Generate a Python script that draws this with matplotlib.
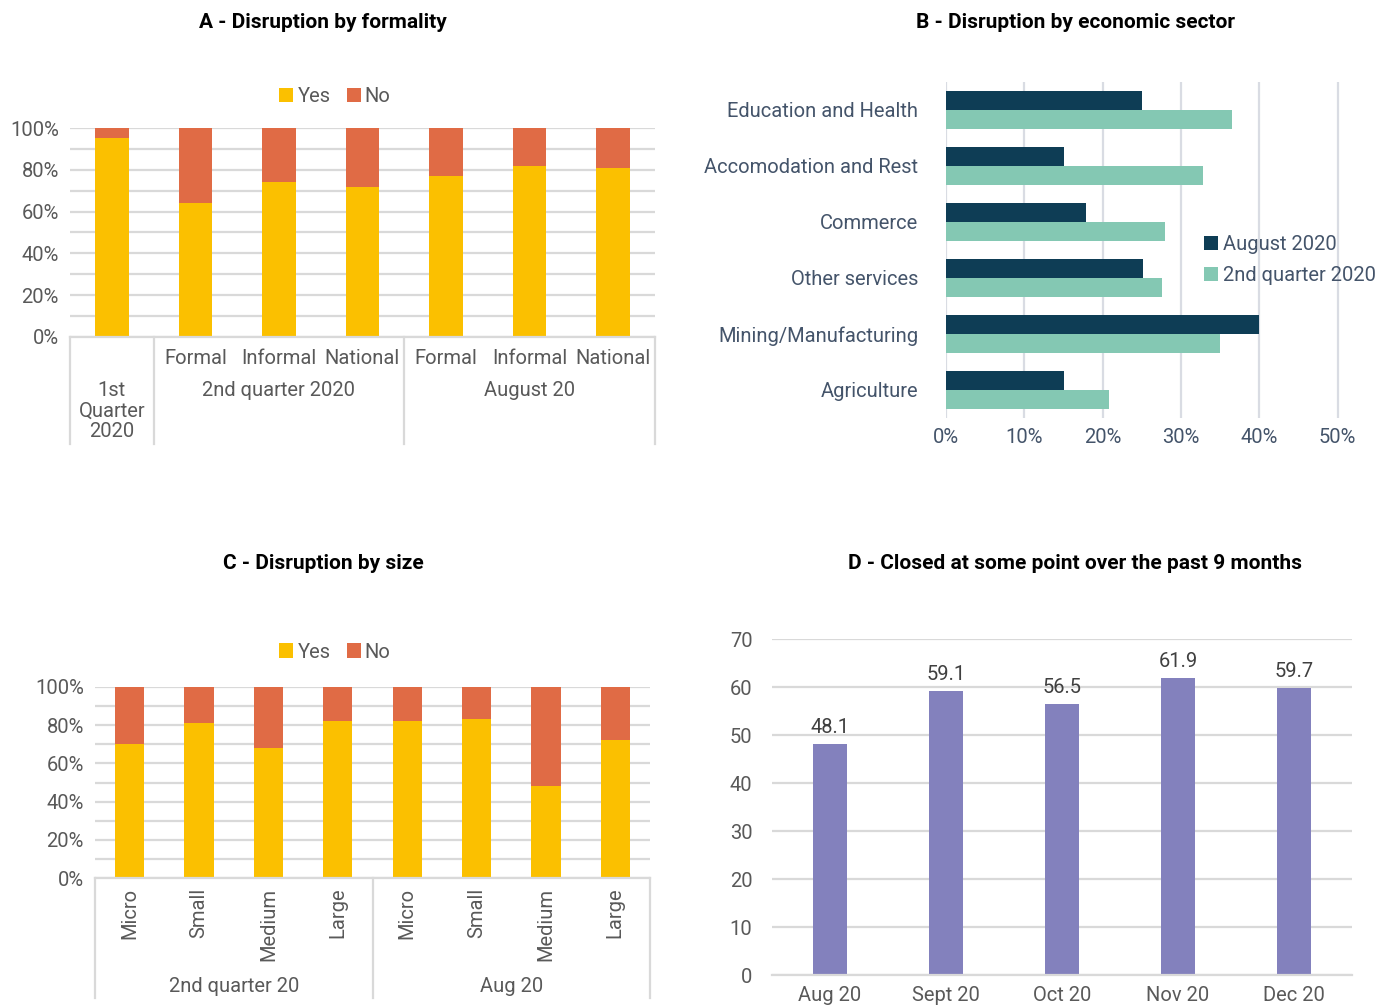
import matplotlib.pyplot as plt
import matplotlib.transforms as mtransforms
import numpy as np

plt.rcParams['font.family'] = ['Roboto', 'DejaVu Sans']

# A - formality
formality_cats = ['', 'Formal', 'Informal', 'National', 'Formal', 'Informal', 'National']
formality_yes = [95, 64, 74, 72, 77, 82, 81]
formality_groups = ['1st\nQuarter\n2020', '2nd quarter 2020', 'August 20']
formality_sizes = [1, 3, 3]

# B - economic sector
sectors = ['Education and Health', 'Accomodation and Rest', 'Commerce',
           'Other services', 'Mining/Manufacturing', 'Agriculture']
sector_aug = [25.0, 15.1, 17.9, 25.2, 40.0, 15.1]
sector_q2 = [36.5, 32.8, 27.9, 27.6, 35.0, 20.8]

# C - size
size_cats = ['Micro', 'Small', 'Medium', 'Large'] * 2
size_yes = [70, 81, 68, 82, 82, 83, 48, 72]
size_groups = ['2nd quarter 20', 'Aug 20']
size_sizes = [4, 4]

# D - closed at some point
months = ['Aug 20', 'Sept 20', 'Oct 20', 'Nov 20', 'Dec 20']
closed = [48.1, 59.1, 56.5, 61.9, 59.7]

YES = '#FBC000'
NO = '#E06B45'
GRID = '#D9D9D9'
TXT = '#595959'
SLATE = '#44546A'
FS = 14.5

W, H = 1376, 1005
fig = plt.figure(figsize=(W / 100, H / 100), dpi=100)


def box(x0, y0, x1, y1):
    # pixel box (top-left origin) -> figure fraction axes
    return fig.add_axes([x0 / W, 1 - y1 / H, (x1 - x0) / W, (y1 - y0) / H])


def stacked(ax, cats, yes, groups, sizes, width, rot, tick_pad, sep_depth, group_y):
    x = np.arange(len(cats))
    no = [100 - v for v in yes]
    ax.bar(x, yes, width, color=YES, label='Yes', zorder=2)
    ax.bar(x, no, width, bottom=yes, color=NO, label='No', zorder=2)
    ax.set_xlim(-0.5, len(cats) - 0.5)
    ax.set_ylim(0, 100)
    ax.set_yticks(range(0, 101, 20))
    ax.set_yticklabels([f'{v}%' for v in range(0, 101, 20)])
    ax.set_yticks(range(10, 100, 20), minor=True)
    ax.grid(axis='y', which='both', color=GRID, lw=1.6, zorder=0)
    ax.set_axisbelow(True)
    for s in ['top', 'right', 'left']:
        ax.spines[s].set_visible(False)
    ax.spines['bottom'].set_color(GRID)
    ax.spines['bottom'].set_linewidth(1.6)
    ax.set_xticks(x)
    if rot:
        ax.set_xticklabels(cats, rotation=90, va='top', ha='center')
    else:
        ax.set_xticklabels(cats)
    ax.tick_params(which='both', length=0, labelsize=FS, colors=TXT)
    ax.tick_params(axis='x', pad=tick_pad)
    ax.tick_params(axis='y', pad=8)
    edges = np.concatenate([[0], np.cumsum(sizes)]) - 0.5
    trans = mtransforms.blended_transform_factory(ax.transData, ax.transAxes)
    for e in edges:
        ax.plot([e, e], [0, -sep_depth], transform=trans, clip_on=False,
                color=GRID, lw=1.6)
    for g, a, b in zip(groups, edges[:-1], edges[1:]):
        ax.text((a + b) / 2, -group_y, g, transform=trans, ha='center', va='top',
                fontsize=FS, color=TXT, linespacing=1.12)


def yes_no_legend(ax, cx, cy):
    h, l = ax.get_legend_handles_labels()
    fig.legend(h, l, loc='center', bbox_to_anchor=(cx / W, 1 - cy / H), ncol=2,
               frameon=False, fontsize=FS, handlelength=0.7, handleheight=0.7,
               handletextpad=0.2, columnspacing=0.8, labelcolor=TXT)


# A
axA = box(70, 128, 655, 337)
stacked(axA, formality_cats, formality_yes, formality_groups, formality_sizes,
        0.4, False, 9, 0.51, 0.21)
yes_no_legend(axA, 335, 97)

# B
axB = box(946, 82, 1340, 418)
y = np.arange(len(sectors))
axB.barh(y - 0.17, sector_aug, 0.34, color='#0E3D55', label='August 2020', zorder=2)
axB.barh(y + 0.17, sector_q2, 0.34, color='#84C8B3', label='2nd quarter 2020', zorder=2)
axB.set_ylim(len(sectors) - 0.5, -0.5)
axB.set_xlim(0, 50.3)
axB.set_xticks(range(0, 51, 10))
axB.set_xticklabels([f'{v}%' for v in range(0, 51, 10)])
axB.set_yticks(y)
axB.set_yticklabels(sectors)
axB.grid(axis='x', color='#D9DCE3', lw=1.6, zorder=0)
axB.set_axisbelow(True)
for s in axB.spines.values():
    s.set_visible(False)
axB.tick_params(length=0, labelsize=FS, colors=SLATE)
axB.tick_params(axis='y', pad=20)
axB.tick_params(axis='x', pad=7)
h, l = axB.get_legend_handles_labels()
fig.legend(h, l, loc='upper left', bbox_to_anchor=(1186 / W, 1 - 217 / H),
           frameon=False, fontsize=FS, handlelength=0.7, handleheight=0.7,
           handletextpad=0.25, labelspacing=0.6, labelcolor=SLATE)

# C
axC = box(95, 687, 650, 878)
stacked(axC, size_cats, size_yes, size_groups, size_sizes,
        0.42, True, 7, 0.63, 0.52)
yes_no_legend(axC, 335, 652)

# D
axD = box(772, 639, 1352, 975)
xd = np.arange(len(months))
bars = axD.bar(xd, closed, 0.3, color='#8381BD', zorder=2)
axD.bar_label(bars, fmt='%.1f', padding=5, fontsize=FS, color='#404040')
axD.set_xlim(-0.5, len(months) - 0.5)
axD.set_ylim(0, 70)
axD.set_yticks(range(0, 71, 10))
axD.set_xticks(xd)
axD.set_xticklabels(months)
axD.grid(axis='y', color=GRID, lw=1.6, zorder=0)
axD.set_axisbelow(True)
for s in ['top', 'right', 'left']:
    axD.spines[s].set_visible(False)
axD.spines['bottom'].set_color(GRID)
axD.spines['bottom'].set_linewidth(1.6)
axD.tick_params(length=0, labelsize=FS, colors=TXT)
axD.tick_params(axis='y', pad=14)
axD.tick_params(axis='x', pad=8)

# panel titles
for txt, cx, cy in [('A - Disruption by formality', 323, 22),
                    ('B - Disruption by economic sector', 1075, 22),
                    ('C - Disruption by size', 323, 563),
                    ('D - Closed at some point over the past 9 months', 1075, 563)]:
    fig.text(cx / W, 1 - cy / H, txt, ha='center', va='center',
             fontsize=15, fontweight='bold', color='black')

fig.savefig('out.png', dpi=100)
